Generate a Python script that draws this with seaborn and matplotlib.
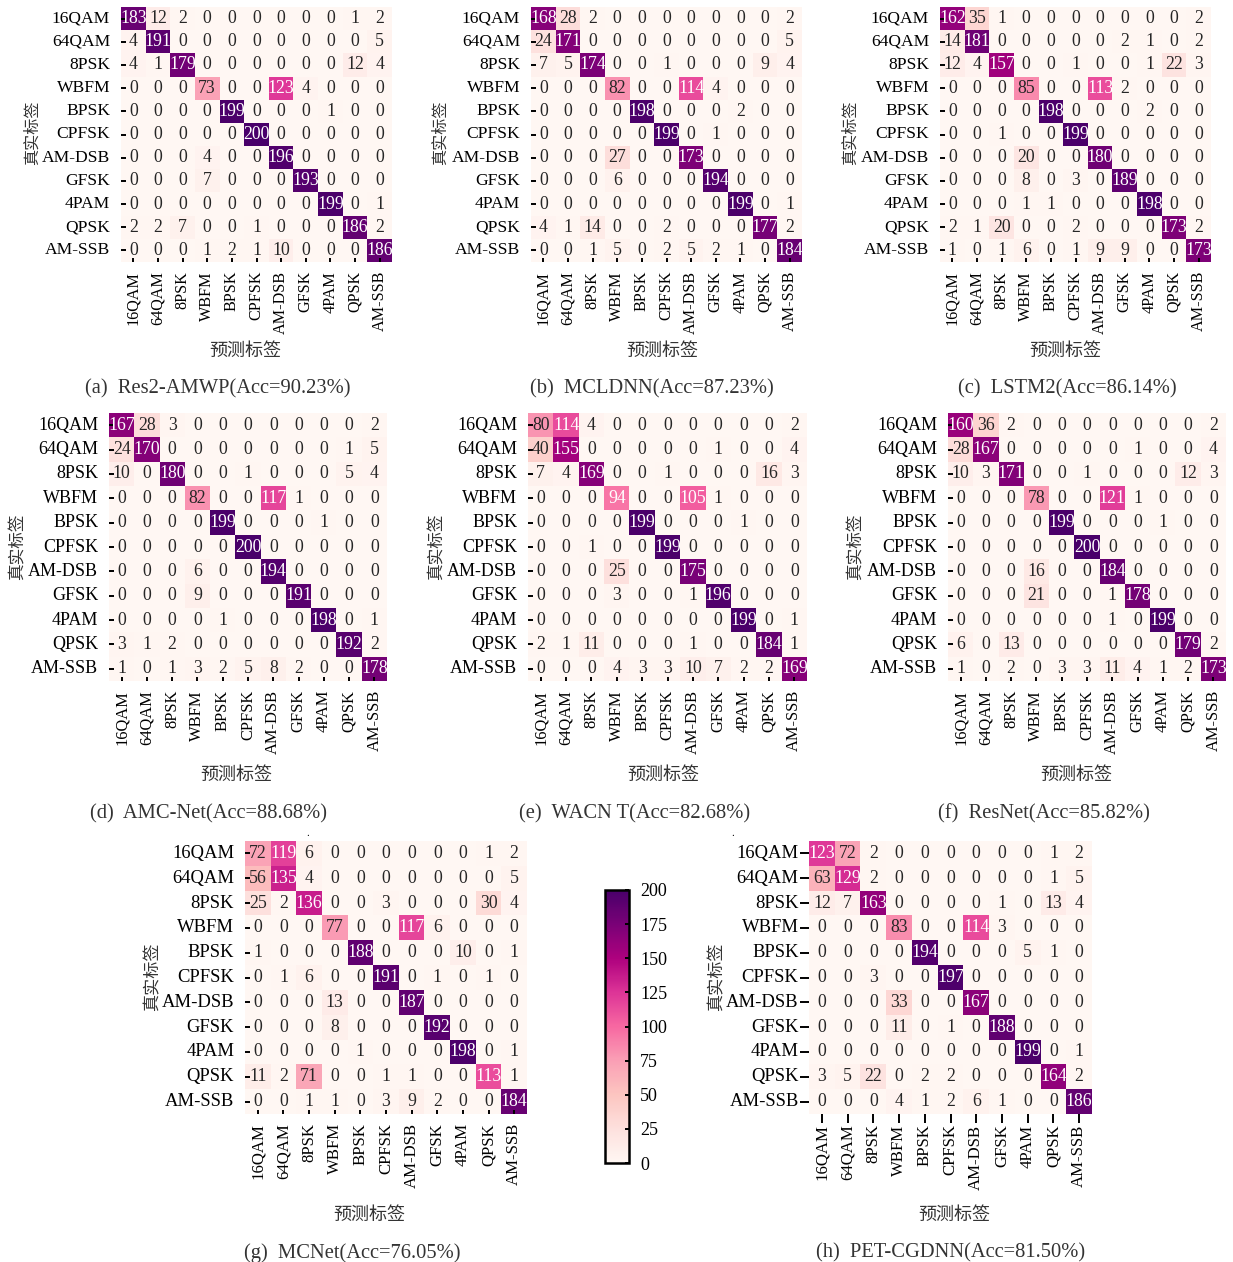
import seaborn as sns
import matplotlib.pyplot as plt

plt.rcParams['font.family'] = ['Liberation Serif', 'Noto Sans CJK SC', 'DejaVu Sans']

W, H = 1233, 1262

classes = ["16QAM", "64QAM", "8PSK", "WBFM", "BPSK", "CPFSK", "AM-DSB", "GFSK", "4PAM", "QPSK", "AM-SSB"]

captions = [
    "(a)  Res2-AMWP(Acc=90.23%)", "(b)  MCLDNN(Acc=87.23%)", "(c)  LSTM2(Acc=86.14%)",
    "(d)  AMC-Net(Acc=88.68%)", "(e)  WACN T(Acc=82.68%)", "(f)  ResNet(Acc=85.82%)",
    "(g)  MCNet(Acc=76.05%)", "(h)  PET-CGDNN(Acc=81.50%)",
]

res2_amwp = [
    [183, 12, 2, 0, 0, 0, 0, 0, 0, 1, 2],
    [4, 191, 0, 0, 0, 0, 0, 0, 0, 0, 5],
    [4, 1, 179, 0, 0, 0, 0, 0, 0, 12, 4],
    [0, 0, 0, 73, 0, 0, 123, 4, 0, 0, 0],
    [0, 0, 0, 0, 199, 0, 0, 0, 1, 0, 0],
    [0, 0, 0, 0, 0, 200, 0, 0, 0, 0, 0],
    [0, 0, 0, 4, 0, 0, 196, 0, 0, 0, 0],
    [0, 0, 0, 7, 0, 0, 0, 193, 0, 0, 0],
    [0, 0, 0, 0, 0, 0, 0, 0, 199, 0, 1],
    [2, 2, 7, 0, 0, 1, 0, 0, 0, 186, 2],
    [0, 0, 0, 1, 2, 1, 10, 0, 0, 0, 186],
]
mcldnn = [
    [168, 28, 2, 0, 0, 0, 0, 0, 0, 0, 2],
    [24, 171, 0, 0, 0, 0, 0, 0, 0, 0, 5],
    [7, 5, 174, 0, 0, 1, 0, 0, 0, 9, 4],
    [0, 0, 0, 82, 0, 0, 114, 4, 0, 0, 0],
    [0, 0, 0, 0, 198, 0, 0, 0, 2, 0, 0],
    [0, 0, 0, 0, 0, 199, 0, 1, 0, 0, 0],
    [0, 0, 0, 27, 0, 0, 173, 0, 0, 0, 0],
    [0, 0, 0, 6, 0, 0, 0, 194, 0, 0, 0],
    [0, 0, 0, 0, 0, 0, 0, 0, 199, 0, 1],
    [4, 1, 14, 0, 0, 2, 0, 0, 0, 177, 2],
    [0, 0, 1, 5, 0, 2, 5, 2, 1, 0, 184],
]
lstm2 = [
    [162, 35, 1, 0, 0, 0, 0, 0, 0, 0, 2],
    [14, 181, 0, 0, 0, 0, 0, 2, 1, 0, 2],
    [12, 4, 157, 0, 0, 1, 0, 0, 1, 22, 3],
    [0, 0, 0, 85, 0, 0, 113, 2, 0, 0, 0],
    [0, 0, 0, 0, 198, 0, 0, 0, 2, 0, 0],
    [0, 0, 1, 0, 0, 199, 0, 0, 0, 0, 0],
    [0, 0, 0, 20, 0, 0, 180, 0, 0, 0, 0],
    [0, 0, 0, 8, 0, 3, 0, 189, 0, 0, 0],
    [0, 0, 0, 1, 1, 0, 0, 0, 198, 0, 0],
    [2, 1, 20, 0, 0, 2, 0, 0, 0, 173, 2],
    [1, 0, 1, 6, 0, 1, 9, 9, 0, 0, 173],
]
amc_net = [
    [167, 28, 3, 0, 0, 0, 0, 0, 0, 0, 2],
    [24, 170, 0, 0, 0, 0, 0, 0, 0, 1, 5],
    [10, 0, 180, 0, 0, 1, 0, 0, 0, 5, 4],
    [0, 0, 0, 82, 0, 0, 117, 1, 0, 0, 0],
    [0, 0, 0, 0, 199, 0, 0, 0, 1, 0, 0],
    [0, 0, 0, 0, 0, 200, 0, 0, 0, 0, 0],
    [0, 0, 0, 6, 0, 0, 194, 0, 0, 0, 0],
    [0, 0, 0, 9, 0, 0, 0, 191, 0, 0, 0],
    [0, 0, 0, 0, 1, 0, 0, 0, 198, 0, 1],
    [3, 1, 2, 0, 0, 0, 0, 0, 0, 192, 2],
    [1, 0, 1, 3, 2, 5, 8, 2, 0, 0, 178],
]
wacn_t = [
    [80, 114, 4, 0, 0, 0, 0, 0, 0, 0, 2],
    [40, 155, 0, 0, 0, 0, 0, 1, 0, 0, 4],
    [7, 4, 169, 0, 0, 1, 0, 0, 0, 16, 3],
    [0, 0, 0, 94, 0, 0, 105, 1, 0, 0, 0],
    [0, 0, 0, 0, 199, 0, 0, 0, 1, 0, 0],
    [0, 0, 1, 0, 0, 199, 0, 0, 0, 0, 0],
    [0, 0, 0, 25, 0, 0, 175, 0, 0, 0, 0],
    [0, 0, 0, 3, 0, 0, 1, 196, 0, 0, 0],
    [0, 0, 0, 0, 0, 0, 0, 0, 199, 0, 1],
    [2, 1, 11, 0, 0, 0, 1, 0, 0, 184, 1],
    [0, 0, 0, 4, 3, 3, 10, 7, 2, 2, 169],
]
resnet = [
    [160, 36, 2, 0, 0, 0, 0, 0, 0, 0, 2],
    [28, 167, 0, 0, 0, 0, 0, 1, 0, 0, 4],
    [10, 3, 171, 0, 0, 1, 0, 0, 0, 12, 3],
    [0, 0, 0, 78, 0, 0, 121, 1, 0, 0, 0],
    [0, 0, 0, 0, 199, 0, 0, 0, 1, 0, 0],
    [0, 0, 0, 0, 0, 200, 0, 0, 0, 0, 0],
    [0, 0, 0, 16, 0, 0, 184, 0, 0, 0, 0],
    [0, 0, 0, 21, 0, 0, 1, 178, 0, 0, 0],
    [0, 0, 0, 0, 0, 0, 1, 0, 199, 0, 0],
    [6, 0, 13, 0, 0, 0, 0, 0, 0, 179, 2],
    [1, 0, 2, 0, 3, 3, 11, 4, 1, 2, 173],
]
mcnet = [
    [72, 119, 6, 0, 0, 0, 0, 0, 0, 1, 2],
    [56, 135, 4, 0, 0, 0, 0, 0, 0, 0, 5],
    [25, 2, 136, 0, 0, 3, 0, 0, 0, 30, 4],
    [0, 0, 0, 77, 0, 0, 117, 6, 0, 0, 0],
    [1, 0, 0, 0, 188, 0, 0, 0, 10, 0, 1],
    [0, 1, 6, 0, 0, 191, 0, 1, 0, 1, 0],
    [0, 0, 0, 13, 0, 0, 187, 0, 0, 0, 0],
    [0, 0, 0, 8, 0, 0, 0, 192, 0, 0, 0],
    [0, 0, 0, 0, 1, 0, 0, 0, 198, 0, 1],
    [11, 2, 71, 0, 0, 1, 1, 0, 0, 113, 1],
    [0, 0, 1, 1, 0, 3, 9, 2, 0, 0, 184],
]
pet_cgdnn = [
    [123, 72, 2, 0, 0, 0, 0, 0, 0, 1, 2],
    [63, 129, 2, 0, 0, 0, 0, 0, 0, 1, 5],
    [12, 7, 163, 0, 0, 0, 0, 1, 0, 13, 4],
    [0, 0, 0, 83, 0, 0, 114, 3, 0, 0, 0],
    [0, 0, 0, 0, 194, 0, 0, 0, 5, 1, 0],
    [0, 0, 3, 0, 0, 197, 0, 0, 0, 0, 0],
    [0, 0, 0, 33, 0, 0, 167, 0, 0, 0, 0],
    [0, 0, 0, 11, 0, 1, 0, 188, 0, 0, 0],
    [0, 0, 0, 0, 0, 0, 0, 0, 199, 0, 1],
    [3, 5, 22, 0, 2, 2, 0, 0, 0, 164, 2],
    [0, 0, 0, 4, 1, 2, 6, 1, 0, 0, 186],
]

matrices = [res2_amwp, mcldnn, lstm2, amc_net, wacn_t, resnet, mcnet, pet_cgdnn]

# layout in reference pixels: heatmap box, ylabel centre, xlabel centre, caption centre
boxes = [(121, 7, 392, 262), (531, 7, 802, 262), (940, 7, 1211, 262),
         (109, 413, 387, 681), (528, 413, 807, 681), (948, 413, 1226, 681),
         (245, 841, 527, 1114), (809, 841, 1092, 1114)]
ylabel_pos = [(33, 133), (441, 133), (851, 133), (19, 547), (438, 547), (857, 547), (153, 977), (717, 977)]
xlabel_pos = [(245, 351), (662, 351), (1065, 351), (236, 775), (663, 775), (1076, 775), (369, 1215), (954, 1215)]
caption_pos = [(218, 389), (652, 389), (1067, 389), (208, 814), (635, 814), (1044, 814), (352, 1253), (951, 1253)]
ylabel_size = [11.6, 11.6, 11.6, 12, 12, 12, 12.3, 12.3]
xtick_size = [11.6, 11.6, 11.6, 11.9, 11.9, 11.9, 12.1, 12.1]
ytick_size = [12.6, 12.6, 12.6, 13, 13, 13, 13.4, 13.4]


def fx(x):
    return x / W


def fy(y):
    return 1 - y / H


fig = plt.figure(figsize=(W / 100, H / 100), dpi=100)

cax = fig.add_axes([fx(605), fy(1163), fx(629) - fx(605), fy(890) - fy(1163)])

for i, mat in enumerate(matrices):
    x0, y0, x1, y1 = boxes[i]
    ax = fig.add_axes([fx(x0), fy(y1), fx(x1) - fx(x0), fy(y0) - fy(y1)])
    last = i == len(matrices) - 1
    sns.heatmap(mat, ax=ax, cmap="RdPu", vmin=0, vmax=200, annot=True, fmt="d",
                annot_kws={"fontsize": 12.8},
                xticklabels=classes, yticklabels=classes,
                cbar=last, cbar_ax=cax if last else None)
    if last:
        # panel (h) has long outward ticks, the others short inward ones
        ax.tick_params(axis="x", direction="out", length=6.5, width=1.4, pad=1, labelsize=xtick_size[i])
        ax.tick_params(axis="y", direction="out", length=6.5, width=1.4, pad=1, labelsize=ytick_size[i])
    else:
        ax.tick_params(axis="x", direction="in", length=3, width=1.4, pad=6.5, labelsize=xtick_size[i])
        ax.tick_params(axis="y", direction="in", length=3.5, width=1.4, pad=7.8, labelsize=ytick_size[i])
    ax.tick_params(axis="x", labelrotation=90)
    ax.tick_params(axis="y", labelrotation=0)
    ax.set_ylabel("真实标签", fontsize=ylabel_size[i], color="#333333")
    ax.set_xlabel("预测标签", fontsize=13, color="#333333")
    ax.yaxis.set_label_coords(fx(ylabel_pos[i][0]), fy(ylabel_pos[i][1]), transform=fig.transFigure)
    ax.xaxis.set_label_coords(fx(xlabel_pos[i][0]), fy(xlabel_pos[i][1]), transform=fig.transFigure)
    ax.xaxis.label.set_verticalalignment("center")
    ax.yaxis.label.set_verticalalignment("center")
    fig.text(fx(caption_pos[i][0]), fy(caption_pos[i][1]), captions[i], fontsize=14.8,
             color="#333333", ha="center", va="center")

# colorbar
cbar = fig.axes[-1].collections[0].colorbar
cbar.set_ticks(range(0, 201, 25))
cbar.outline.set_linewidth(1.8)
cbar.outline.set_edgecolor("black")
cax.tick_params(direction="in", length=3, width=1.4, pad=8, labelsize=13, colors="black")

# stray dots above panels (g) and (h) in the original
fig.text(fx(308), fy(836), ".", fontsize=8, ha="center", va="baseline")
fig.text(fx(733), fy(836), ".", fontsize=8, ha="center", va="baseline")

plt.savefig("out.png", dpi=100)
